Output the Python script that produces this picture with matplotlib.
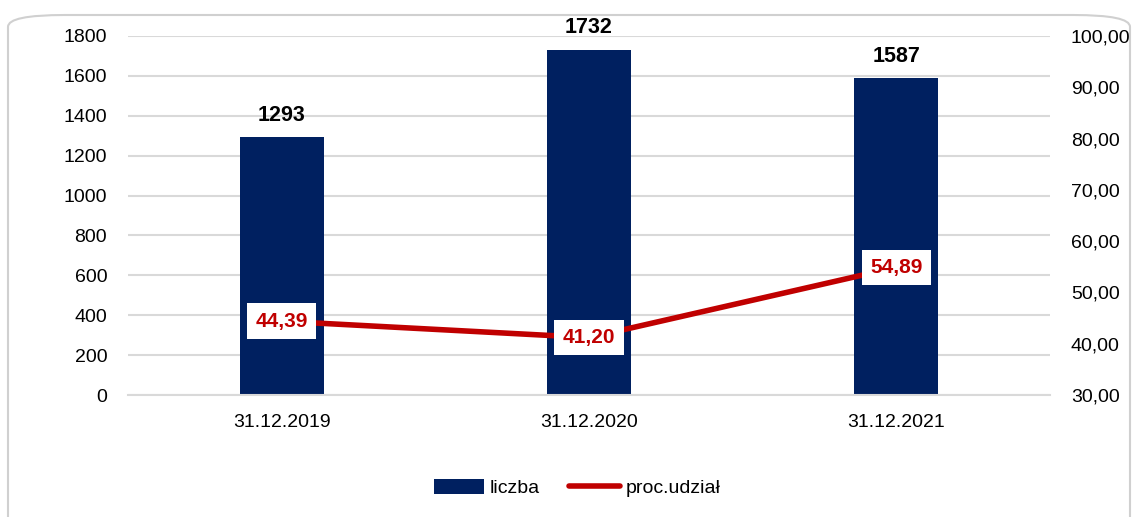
import matplotlib.pyplot as plt
from matplotlib.patches import FancyBboxPatch
from matplotlib.ticker import FuncFormatter
import numpy as np

dates = ["31.12.2019", "31.12.2020", "31.12.2021"]
liczba = [1293, 1732, 1587]
udzial = [44.39, 41.20, 54.89]

NAVY = "#002060"
RED = "#C00000"
GRID = "#D9D9D9"

plt.rcParams["font.family"] = ["Liberation Sans", "DejaVu Sans"]
plt.rcParams["font.size"] = 14

fig = plt.figure(figsize=(11.34, 5.17), dpi=100)

# rounded frame around the whole chart
frame = FancyBboxPatch((8 / 1134, -20 / 517), 1122 / 1134, 1 - 15 / 517 + 20 / 517,
                       boxstyle="round,pad=0,rounding_size=0.05",
                       transform=fig.transFigure, facecolor="white",
                       edgecolor="#D0D0D0", linewidth=1.5, mutation_aspect=517 / 1134,
                       zorder=-10)
fig.patches.append(frame)

ax = fig.add_axes([128 / 1134, 1 - 395 / 517, 922 / 1134, 359 / 517])
ax.set_facecolor("none")
x = np.arange(len(dates))

bars = ax.bar(x, liczba, width=0.273, color=NAVY, zorder=2, label="liczba")
for xi, v in zip(x, liczba):
    ax.annotate(str(v), (xi, v), xytext=(0, 8), textcoords="offset points",
                ha="center", va="bottom", fontweight="bold", fontsize=15.5,
                annotation_clip=False)

ax.set_xlim(-0.5, 2.5)
ax.set_ylim(0, 1800)
ax.set_yticks(np.arange(0, 1801, 200))
ax.set_xticks(x)
ax.set_xticklabels(dates)
ax.grid(axis="y", color=GRID, linewidth=1.5, zorder=0)
ax.set_axisbelow(True)
for s in ["top", "left", "right"]:
    ax.spines[s].set_visible(False)
ax.spines["bottom"].set_color(GRID)
ax.spines["bottom"].set_linewidth(1.5)
ax.tick_params(axis="both", length=0, colors="black")
ax.tick_params(axis="y", pad=15)
ax.tick_params(axis="x", pad=14)

ax2 = ax.twinx()
ax2.set_ylim(30, 100)
ax2.set_yticks(np.arange(30, 101, 10))
ax2.yaxis.set_major_formatter(FuncFormatter(lambda v, p: f"{v:.2f}".replace(".", ",")))
for s in ax2.spines.values():
    s.set_visible(False)
ax2.tick_params(axis="y", length=0, pad=15)

line, = ax2.plot(x, udzial, color=RED, linewidth=4, solid_capstyle="round",
                 zorder=3, label="proc.udział")
for xi, v in zip(x, udzial):
    ax2.text(xi, v, f"{v:.2f}".replace(".", ","), ha="center", va="center",
             color=RED, fontweight="bold", fontsize=15, zorder=4,
             bbox=dict(boxstyle="square,pad=0.4", facecolor="white", edgecolor="none"))

fig.legend([bars, line], ["liczba", "proc.udział"], loc="center",
           bbox_to_anchor=(0.509, 1 - 488 / 517), ncol=2, frameon=False,
           handlelength=2.6, handleheight=0.8, handletextpad=0.3, columnspacing=1.5)

fig.savefig("out.png", dpi=100)
